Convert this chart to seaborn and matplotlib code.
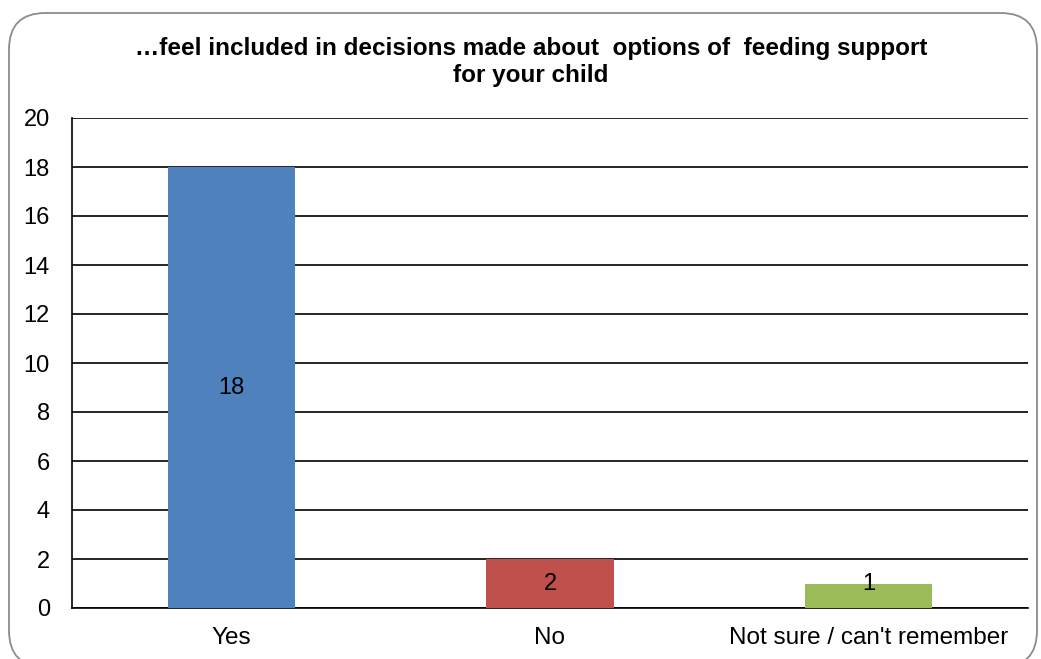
import matplotlib
matplotlib.use("Agg")
import matplotlib.pyplot as plt
from matplotlib.patches import FancyBboxPatch
import seaborn as sns
import pandas as pd

categories = ["Yes", "No", "Not sure / can't remember"]
counts = [18, 2, 1]
bar_colors = ["#4F81BD", "#C0504D", "#9BBB59"]
title = "…feel included in decisions made about  options of  feeding support\nfor your child"
y_ticks = list(range(0, 21, 2))

sns.set_theme(style="white")
plt.rcParams["font.family"] = ["Liberation Sans", "DejaVu Sans"]
plt.rcParams["text.color"] = "black"

df = pd.DataFrame({"category": categories, "count": counts})

fig = plt.figure(figsize=(10.41, 6.59), dpi=100)
ax = fig.add_axes([72 / 1041, 1 - 608 / 659, (1028 - 72) / 1041, (608 - 118) / 659])

# rounded chart-area frame, running past the lower edge of the canvas
frame = FancyBboxPatch((9 / 1041, -8 / 659), 1028 / 1041, 654 / 659,
                       boxstyle="round,pad=0,rounding_size=0.035",
                       transform=fig.transFigure, facecolor="none",
                       edgecolor="#8c8c8c", linewidth=1.3, zorder=0,
                       mutation_aspect=1041 / 659)
fig.patches.append(frame)

sns.barplot(data=df, x="category", y="count", hue="category",
            palette=bar_colors, width=0.4, saturation=1, legend=False,
            linewidth=0, ax=ax, zorder=3)

ax.set_ylim(0, 20)
ax.set_yticks(y_ticks)
ax.set_xlim(-0.5, len(categories) - 0.5)
ax.yaxis.grid(True, color="black", linewidth=1.2)
ax.set_axisbelow(True)
for side in ["top", "right"]:
    ax.spines[side].set_visible(False)
for side in ["left", "bottom"]:
    ax.spines[side].set_color("black")
    ax.spines[side].set_linewidth(1.2)
ax.set_xlabel("")
ax.set_ylabel("")
ax.tick_params(axis="both", labelsize=17, colors="black", length=0)
ax.tick_params(axis="x", labelsize=17.5, pad=14)
ax.tick_params(axis="y", pad=16)

# value labels, kept inside or just on top of short bars
for i, v in enumerate(counts):
    ax.text(i, max(v / 2, 1), str(v), ha="center", va="center",
            fontsize=17, color="black", zorder=4)

fig.text(531 / 1041, 1 - 62 / 659, title, ha="center", va="center",
         fontsize=17.5, fontweight="bold", linespacing=1.25, color="black")

fig.savefig("out.png", dpi=100)
